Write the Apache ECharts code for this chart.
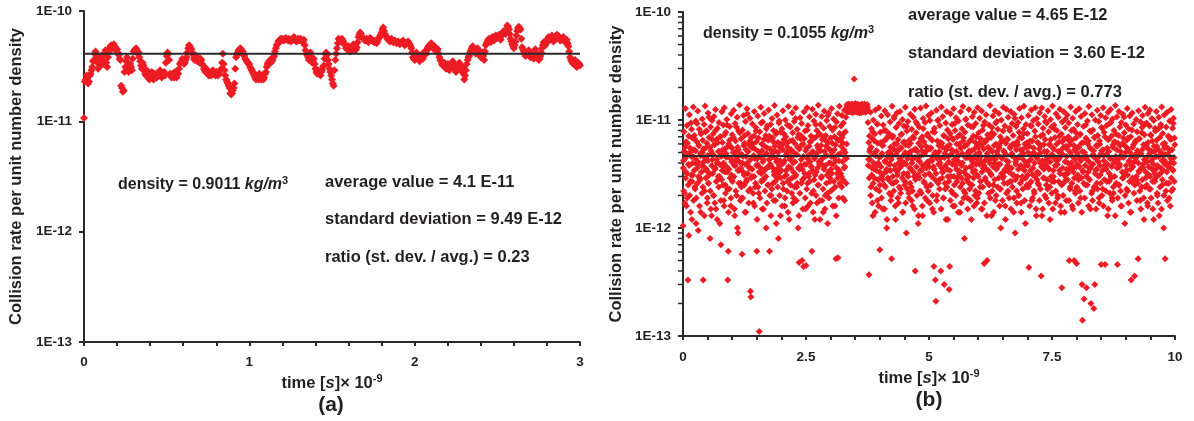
<!DOCTYPE html>
<html><head><meta charset="utf-8">
<script src="https://cdn.jsdelivr.net/npm/echarts@6/dist/echarts.min.js"></script>
<style>html,body{margin:0;padding:0;background:#fff}#c{width:1194px;height:421px}</style>
</head><body><div id="c"></div>
<script>
const FONT = '"Liberation Sans", Arial, sans-serif';
const INK = '#231f20';
const RED = '#ED1C24';

// axis ranges / ticks
const yMin = 1e-13, yMax = 1e-10;
const xMaxA = 3, xIntervalA = 1;
const xMaxB = 10, xIntervalB = 2.5;
const yMinorTickValuesB = [2e-13,3e-13,4e-13,5e-13,6e-13,7e-13,8e-13,9e-13,
  2e-12,3e-12,4e-12,5e-12,6e-12,7e-12,8e-12,9e-12,
  2e-11,3e-11,4e-11,5e-11,6e-11,7e-11,8e-11,9e-11];

// averages (horizontal lines)
const avgA = 4.1e-11;
const avgB = 4.65e-12;

// panel (a): collision rate in units of 1E-11, sampled every 0.005 (×1E-9 s)
const dtA = 0.005;
const unitA = 1e-11;
const rateA = [
1.07,2.3,2.4,2.6,2.5,2.2,2.3,2.6,2.7,2.9,3.1,3.5,3.6,4.1,4.3,3.8,3.4,3.0,3.9,3.6,
3.2,3.7,4.0,3.3,3.5,4.1,4.4,3.4,3.1,3.8,4.2,4.6,4.8,4.9,4.6,4.8,5.0,4.5,4.7,4.4,
4.5,4.2,4.0,3.7,3.6,2.1,2.0,1.85,1.9,2.8,3.1,3.5,3.8,3.1,2.8,3.0,3.3,3.1,2.9,3.7,
4.3,4.4,4.5,4.6,4.4,4.1,4.2,3.8,3.5,3.2,3.0,3.4,3.2,2.9,2.7,2.6,2.9,2.7,2.5,2.4,
2.6,2.7,2.8,2.5,2.4,2.6,2.7,2.5,2.5,2.7,2.6,2.8,2.9,2.6,2.5,2.6,2.7,2.8,2.6,3.4,
3.9,4.2,4.1,3.6,2.7,2.6,2.5,2.7,2.6,2.5,2.8,2.6,2.5,2.7,2.7,3.0,3.3,3.4,3.5,3.7,
3.6,3.3,3.4,3.6,3.8,4.2,4.6,4.9,4.8,4.6,4.5,4.2,4.0,3.7,3.6,3.8,3.9,3.5,3.7,3.5,
3.4,3.7,3.6,3.3,3.2,3.0,2.9,2.8,3.0,2.8,2.7,2.6,2.8,2.7,2.6,2.8,2.9,2.7,2.7,2.6,
2.8,2.7,2.6,2.8,2.7,2.9,3.0,3.4,4.1,3.3,2.9,2.6,2.4,2.3,2.2,2.1,2.0,1.8,1.75,1.8,
1.9,2.0,2.2,3.0,3.8,4.0,4.2,4.4,4.4,4.6,4.5,4.2,4.3,4.0,3.9,3.7,3.6,3.5,3.4,3.3,
3.3,3.1,3.0,2.9,2.8,2.7,2.6,2.5,2.4,2.6,2.5,2.4,2.7,2.5,2.4,2.5,2.6,2.4,2.5,2.7,
2.8,3.1,3.3,3.4,3.5,3.6,3.4,3.5,3.6,3.8,3.9,4.3,4.6,4.9,5.0,5.3,5.4,5.5,5.6,5.4,
5.6,5.5,5.4,5.6,5.7,5.6,5.5,5.4,5.6,5.5,5.3,5.4,5.5,5.7,5.8,5.6,5.4,5.3,5.5,5.6,
5.4,5.5,5.6,5.4,5.3,5.2,5.5,4.9,4.4,4.1,4.0,3.8,3.6,3.9,4.2,3.7,3.4,3.5,3.7,3.3,
3.0,2.8,2.7,2.9,2.8,2.7,2.6,2.8,2.9,3.1,3.2,3.7,4.1,4.2,4.0,3.6,3.3,3.0,2.8,2.6,
2.4,2.2,2.1,2.9,3.6,4.1,4.6,5.1,5.6,5.5,5.4,5.3,5.6,5.4,5.2,5.0,4.9,4.6,4.5,4.7,
4.8,4.5,4.3,4.4,4.6,4.8,5.0,4.6,4.4,4.5,4.7,5.2,5.8,6.1,6.4,6.2,5.9,5.7,5.6,5.5,
5.4,5.5,5.6,5.4,5.2,5.5,5.7,5.6,5.5,5.4,5.3,5.2,5.4,5.3,5.1,5.3,5.6,5.7,5.9,6.1,
6.4,6.8,7.1,6.6,6.2,6.0,5.8,5.6,5.5,5.4,5.3,5.5,5.6,5.4,5.2,5.3,5.4,5.2,5.1,5.2,
5.3,5.1,5.0,5.1,5.2,5.3,5.4,5.1,4.9,5.0,5.1,5.2,5.3,5.1,5.0,4.8,4.6,4.2,3.8,3.7,
3.6,3.9,4.2,4.0,3.9,3.6,3.5,3.8,4.0,3.8,3.7,4.0,4.3,4.2,4.1,4.4,4.7,4.8,4.9,5.0,
5.1,4.8,4.6,4.7,4.8,4.5,4.3,4.4,4.5,4.1,3.8,3.6,3.5,3.3,3.2,3.3,3.4,3.1,3.0,3.2,
3.3,3.0,2.9,3.0,3.1,3.3,3.5,3.3,3.2,3.0,2.8,2.9,3.0,3.2,3.4,3.1,2.9,3.0,3.1,2.7,
2.4,2.6,2.9,3.3,3.6,3.8,3.9,4.2,4.4,4.6,4.8,4.6,4.5,4.3,4.1,4.4,4.6,4.4,4.3,4.0,
3.8,4.0,4.2,3.9,3.6,4.3,4.9,5.1,5.3,5.5,5.6,5.4,5.2,5.5,5.8,5.6,5.4,5.7,6.0,5.9,
5.7,5.9,6.1,5.8,5.5,5.9,6.3,6.5,6.6,6.4,6.2,6.8,7.4,7.2,6.8,6.2,5.6,5.3,5.0,4.8,
4.6,4.9,5.3,6.0,6.6,7.0,7.2,7.0,6.8,5.6,4.7,4.5,4.3,4.1,3.9,4.0,4.2,4.3,4.4,4.1,
3.8,3.9,4.1,3.9,3.7,4.1,4.5,4.2,4.0,3.8,3.6,3.7,3.9,4.2,4.6,4.9,5.2,5.0,4.9,5.1,
5.4,5.6,5.8,5.7,5.5,5.8,6.0,5.6,5.3,5.5,5.7,5.9,6.1,6.0,5.9,5.6,5.4,5.5,5.6,5.7,
5.8,5.5,5.2,5.4,5.5,5.1,4.8,4.3,3.8,3.6,3.5,3.4,3.3,3.5,3.6,3.3,3.1,3.2,3.4,3.3,
3.2
];

// panel (b): collision rate in units of 1E-12
const unitB = 1e-12;
const dtB = 0.01;
// samples at t = 0, 0.01, 0.02, ... (×1E-9 s)
const rateB = [
1.05,4.2,7.8,2.1,5.6,12.8,3.3,1.6,8.9,6.1,0.33,3.9,0.85,11.2,5.0,2.7,9.4,4.6,1.2,6.8,
3.1,13.2,5.3,7.2,2.4,4.4,9.8,1.9,6.3,3.6,12.1,0.95,5.8,8.2,2.9,4.9,1.4,7.6,3.8,10.2,
6.5,0.33,4.1,9.1,2.2,13.5,5.5,3.4,7.9,1.7,4.7,11.6,2.6,6.9,3.2,0.8,8.6,5.2,1.3,9.9,
4.3,7.4,2.0,10.8,5.9,3.5,12.5,1.5,6.6,4.0,8.4,2.8,5.1,9.5,3.0,1.1,7.0,0.70,4.8,11.9,
6.2,3.7,9.0,1.8,13.0,5.4,2.5,7.7,4.5,10.1,3.3,0.33,0.61,6.0,2.3,8.7,5.7,1.6,11.4,4.1,
7.3,2.9,5.0,12.3,3.8,1.3,9.3,6.4,4.2,2.0,10.6,5.6,0.9,7.9,3.4,13.8,4.8,2.6,6.7,1.9,
0.57,8.1,4.6,11.0,3.1,6.1,1.4,9.7,5.3,2.7,12.7,4.0,7.5,2.2,5.9,3.6,10.4,0.26,0.23,6.9,
3.0,9.2,5.5,1.7,7.1,12.0,4.4,2.4,8.5,6.3,0.61,3.9,10.9,5.1,2.1,0.11,7.8,4.7,13.1,3.2,
6.0,1.5,9.6,4.3,2.8,11.5,5.7,3.5,7.2,1.0,4.9,8.8,2.5,6.5,12.4,3.7,0.61,5.4,9.1,2.0,
4.5,10.3,6.8,2.6,8.0,3.3,13.6,5.2,1.8,7.4,4.1,11.1,2.9,6.2,0.8,9.4,3.8,5.6,1.3,7.7,
3.4,8.3,5.9,12.2,2.3,6.6,4.2,1.6,10.0,7.0,3.1,5.0,9.0,2.7,13.3,4.6,1.2,6.4,8.6,3.6,
5.3,2.1,11.7,7.6,4.0,1.9,9.7,6.1,3.0,12.9,4.8,2.4,8.2,5.6,1.0,7.3,0.48,3.5,10.5,6.7,
4.3,9.3,0.5,2.8,6.0,0.44,11.9,3.9,7.9,1.5,0.45,5.5,13.0,2.6,8.9,4.7,3.2,10.7,6.3,1.7,
7.1,3.7,0.61,12.6,5.1,2.2,9.8,4.4,1.2,6.9,11.3,3.3,8.0,5.8,2.5,13.7,4.1,7.5,1.8,9.1,
5.2,2.9,10.8,6.6,3.8,1.4,8.4,12.1,4.6,2.0,7.2,5.7,9.9,3.1,1.1,6.2,11.6,4.0,8.7,2.7,
6.8,3.5,12.8,5.0,8.1,2.3,10.2,4.5,7.0,1.6,5.9,0.52,9.6,3.2,11.4,0.53,6.5,4.2,13.4,2.6,
4.9,8.8,3.0,11.0,6.2,1.9,9.4,5.3,12.3,3.7,7.8,10.6,4.4,12.9,13.3,12.6,13.1,13.6,12.8,13.2,
13.0,12.7,13.4,12.9,13.5,13.1,12.6,13.3,24.0,12.8,13.2,13.6,12.9,13.0,12.5,13.4,13.1,12.7,13.3,12.9,
13.2,12.8,13.5,13.0,12.6,13.3,13.1,12.9,13.4,12.7,13.0,13.2,12.8,13.5,12.9,13.1,9.5,4.3,0.37,7.1,
5.4,11.8,2.4,8.3,3.6,6.7,1.3,10.0,4.8,2.9,7.4,12.4,5.1,3.4,9.2,1.8,6.1,4.0,13.0,2.2,
0.63,7.7,4.6,10.9,3.0,5.8,1.5,9.0,6.4,2.5,12.2,4.2,8.0,3.3,1.0,6.9,11.2,5.0,2.8,7.5,
3.9,9.6,5.6,2.0,0.52,13.4,4.7,7.1,2.6,10.4,6.0,3.5,1.2,8.5,5.2,11.7,3.1,6.6,1.7,9.3,
4.4,12.0,2.3,7.3,5.5,3.8,10.1,1.4,6.2,8.8,4.0,2.7,13.1,5.9,0.9,7.9,3.2,9.7,4.9,2.1,
6.5,3.6,11.3,5.1,2.4,8.2,4.3,1.6,10.6,6.8,3.0,12.6,0.40,5.4,7.6,2.9,9.2,4.5,1.1,6.1,
8.6,4.1,2.2,12.9,5.7,3.4,7.0,1.3,10.3,4.8,6.3,2.6,9.5,3.9,13.5,5.2,1.8,7.4,4.0,11.0,
3.2,6.9,9.9,2.5,5.5,11.6,4.2,1.5,7.8,3.7,0.44,8.4,5.0,0.33,0.21,12.3,2.0,6.4,4.6,10.0,
5.8,2.8,8.9,4.4,0.40,13.2,6.1,3.3,10.8,1.9,7.2,0.30,4.9,2.3,9.4,5.6,12.0,3.5,1.2,6.7,
4.1,0.27,0.44,7.5,11.4,3.0,5.3,9.1,2.1,6.6,12.7,4.3,1.6,8.0,3.8,10.5,5.1,2.7,7.0,4.7,
9.8,3.4,6.0,1.4,11.9,5.5,2.9,8.3,4.0,13.3,6.8,2.2,0.8,7.7,4.5,10.2,3.1,5.9,1.9,9.0,
4.8,12.5,2.6,6.4,3.7,8.7,1.2,5.2,10.7,3.3,7.1,4.4,11.8,2.0,6.2,9.3,3.9,1.7,5.7,13.0,
3.0,7.6,5.0,10.4,2.4,6.7,4.1,12.1,1.5,8.1,3.6,5.4,0.47,9.6,2.8,6.3,11.2,4.6,0.5,7.3,
5.6,2.1,9.0,4.3,13.6,3.2,6.9,1.3,8.5,5.1,10.9,2.5,7.4,4.0,12.2,1.8,6.0,3.5,9.7,4.8,
8.2,3.9,11.5,5.8,2.3,7.0,1.0,10.0,4.5,6.5,2.9,13.1,5.2,3.3,8.8,1.6,6.1,12.6,4.2,2.6,
6.6,10.6,3.7,1.9,8.0,5.5,12.0,2.7,4.7,9.3,3.1,7.2,1.4,11.3,5.9,0.9,4.1,8.7,2.2,6.3,
4.4,9.5,2.0,7.7,12.8,3.6,5.3,1.7,10.5,6.8,2.8,4.9,8.3,13.4,3.4,6.0,1.1,9.1,5.6,2.4,
7.5,3.8,11.0,0.43,5.7,2.6,8.9,4.3,12.4,1.8,6.4,3.1,9.9,5.0,2.1,7.9,13.0,4.6,1.3,10.3,
3.3,6.2,9.2,2.5,5.4,11.7,4.0,7.1,0.36,12.9,3.7,1.5,8.4,5.9,2.9,10.8,6.6,4.2,1.9,9.4,
5.1,2.3,12.2,7.8,3.5,6.0,1.2,10.1,4.7,8.6,2.7,13.5,5.5,3.0,9.0,4.4,6.9,1.7,11.4,3.8,
8.0,4.2,2.0,10.6,6.3,3.4,12.6,5.2,1.4,7.4,0.28,9.6,4.8,2.6,11.9,6.7,3.1,8.5,5.7,1.8,
4.6,11.1,3.2,7.0,9.4,0.5,5.9,2.4,13.2,4.0,6.5,1.6,10.4,3.6,8.2,0.5,5.3,2.2,12.0,7.6,
0.47,3.9,9.1,5.6,2.8,12.7,4.5,7.3,1.9,10.8,6.1,0.30,0.14,3.3,8.7,0.22,5.0,11.5,2.5,6.8,
0.28,4.3,9.8,2.9,6.4,13.3,3.6,7.9,1.5,0.20,5.4,11.2,2.2,8.1,4.8,0.18,6.9,0.30,10.0,3.4,
5.8,2.6,12.3,7.2,4.1,9.7,1.7,6.0,3.1,11.0,0.46,5.2,8.4,2.3,13.0,4.7,7.7,3.8,0.46,10.5,
3.5,8.9,5.5,1.3,11.8,6.6,2.7,9.3,4.4,12.5,3.0,7.1,1.9,10.2,5.9,2.1,8.0,4.2,6.3,13.6,
7.4,4.0,10.7,0.46,6.1,2.5,12.0,3.7,8.6,5.1,1.6,9.5,4.6,2.9,11.3,6.8,3.2,7.6,1.1,5.7,
9.0,3.4,6.5,12.8,2.2,5.3,8.3,4.1,10.9,1.4,7.0,0.33,3.8,11.6,5.6,2.6,9.2,4.7,0.36,6.2,
4.4,10.1,2.8,7.8,5.0,0.52,12.2,3.3,6.7,1.8,9.6,4.9,2.4,8.5,11.0,3.6,5.9,1.2,7.3,13.1,
2.9,6.0,9.4,4.5,1.7,11.5,5.4,3.1,8.8,12.4,2.3,7.2,4.2,10.3,6.4,1.5,3.9,9.9,5.1,2.7,
7.9,3.5,12.0,5.7,2.0,8.2,4.6,10.6,1.3,6.9,3.2,9.1,5.0,13.2,2.5,7.5,4.3,1.0,11.1,6.1,
0.52,4.8,8.6,2.6,11.8,5.5,3.7,7.0,1.9,9.8,4.0,6.6,12.5,2.2,5.3,8.4,3.4,10.4,4.5,6.8
];
// samples at t = 0.005, 0.015, 0.025, ... (×1E-9 s)
const rateBHalf = [
3.6,2.2,5.1,1.7,4.4,2.9,6.3,3.2,1.9,4.8,2.5,7.1,3.8,2.0,5.5,1.4,3.1,8.2,2.7,4.0,
4.6,1.8,3.4,6.7,2.3,5.2,1.1,3.9,9.3,2.6,4.1,3.0,5.8,1.6,2.8,4.7,7.4,3.3,2.1,5.0,
2.4,5.4,3.7,1.3,4.5,7.8,2.9,3.5,6.1,1.9,4.2,2.6,10.6,3.1,5.6,2.2,1.5,4.9,3.8,6.6,
3.2,4.8,2.0,5.9,1.7,3.6,8.0,2.7,4.3,1.2,6.2,3.0,2.4,5.1,3.9,7.0,1.8,4.6,2.8,3.4,
5.3,2.5,4.0,1.6,7.3,3.3,2.1,4.9,3.7,9.0,2.3,5.7,1.4,3.5,6.5,2.9,4.4,1.9,3.1,5.5,
2.7,4.2,6.9,3.0,1.5,5.0,3.8,2.2,8.6,4.5,1.0,3.4,5.3,2.6,4.1,7.6,1.8,3.6,2.4,4.8,
4.0,1.9,3.3,5.8,2.5,7.2,3.9,1.4,4.6,2.8,11.4,3.2,5.1,1.7,3.7,6.4,2.3,4.3,2.9,5.6,
3.5,6.0,2.1,4.7,3.0,1.6,5.4,2.6,7.9,3.8,1.2,4.4,2.4,6.8,3.3,5.0,1.9,3.6,9.4,2.7,
5.2,2.8,4.1,1.5,6.6,3.4,2.2,4.8,3.0,8.3,1.7,5.5,3.7,2.5,4.3,7.1,2.0,3.9,1.3,4.6,
2.3,4.9,3.6,6.3,1.8,3.1,5.7,2.7,4.4,1.1,7.7,3.5,2.4,5.0,3.2,9.8,2.0,4.2,2.9,6.0,
3.9,1.6,5.3,2.6,4.0,7.4,3.0,1.9,4.7,3.4,6.1,2.2,5.6,1.4,3.7,2.8,8.8,4.3,2.5,5.1,
4.5,2.9,6.5,1.7,3.3,5.0,2.4,4.1,10.3,3.1,1.8,4.8,2.6,6.9,3.6,1.3,5.4,2.1,3.8,7.2,
2.6,5.9,3.5,1.5,4.6,2.9,6.7,3.2,1.9,5.2,3.9,2.3,8.1,4.4,1.6,3.0,5.7,2.7,4.1,6.3,
3.7,2.1,5.0,3.4,1.4,6.8,2.8,4.5,3.1,9.1,2.0,4.9,1.7,3.6,5.5,2.5,7.3,3.9,1.2,4.2,
5.8,3.0,1.8,4.4,2.3,7.0,3.5,5.1,1.5,3.8,6.4,2.6,4.7,2.1,11.0,3.3,1.9,5.4,2.9,4.0,
2.2,4.6,3.2,6.1,1.6,3.9,2.7,5.3,8.5,2.4,4.2,1.3,3.6,6.6,2.9,4.8,1.9,3.4,7.5,2.5,
3.2,5.7,2.4,6.9,4.1,2.8,7.5,3.6,1.8,5.0,4.5,2.6,6.0,13.9,11.8,13.5,12.2,14.1,11.9,13.6,
12.0,13.8,12.4,14.1,11.7,13.5,12.2,13.9,11.9,13.2,14.2,12.1,13.6,11.8,12.9,14.0,12.3,13.7,11.6,13.1,
12.1,13.8,11.7,14.0,12.4,13.6,11.9,13.3,14.1,12.0,13.7,11.8,13.4,12.3,13.9,12.2,3.8,6.2,2.9,5.1,
4.3,2.0,5.6,3.1,1.7,7.8,2.6,4.0,3.5,6.4,1.4,4.7,2.3,5.2,3.8,9.2,2.8,1.6,4.5,3.3,
2.5,6.2,3.7,1.9,4.9,2.8,5.8,3.2,8.0,1.5,4.1,2.4,6.6,3.5,1.2,4.6,2.9,7.1,3.9,2.1,
5.0,3.4,1.8,4.3,2.6,6.9,3.0,5.4,2.2,10.8,3.8,1.6,4.8,2.7,6.0,3.3,1.9,5.2,4.0,2.4,
3.6,5.5,2.1,4.2,7.4,2.9,1.4,4.7,3.2,6.3,2.5,5.0,1.7,3.9,8.7,2.3,4.4,3.0,5.8,1.9,
4.8,2.6,6.1,3.5,1.8,4.0,2.2,7.0,3.3,5.3,1.5,4.5,2.8,9.6,3.7,2.0,5.1,3.1,1.3,4.2,
2.9,4.6,3.4,6.7,2.1,5.2,1.6,3.8,8.3,2.7,4.9,3.1,1.9,5.7,3.6,2.4,7.2,4.1,2.2,5.5,
3.7,1.7,5.4,2.5,4.3,3.0,6.5,2.0,4.7,1.4,3.5,7.7,2.8,5.0,3.2,1.8,4.4,9.9,2.6,3.9,
5.1,2.3,4.0,6.2,1.5,3.6,2.9,5.6,3.3,1.9,7.1,4.5,2.6,3.8,1.2,5.3,2.4,8.1,3.0,4.6,
2.7,5.9,3.4,1.8,4.8,2.2,6.8,3.9,1.6,5.1,3.0,2.5,9.3,4.2,2.0,3.5,6.0,2.9,4.6,1.4,
4.1,3.2,7.3,2.4,5.5,1.7,3.8,4.9,2.6,6.4,1.9,3.3,5.7,2.1,10.1,3.6,2.8,4.5,1.5,5.0,
3.0,5.2,2.3,4.4,1.8,6.6,3.7,2.5,4.1,8.6,2.9,1.6,5.4,3.4,2.2,4.8,7.0,3.1,1.9,4.3,
5.6,2.1,3.9,6.2,2.7,4.6,1.5,3.3,5.9,2.4,8.9,3.8,1.7,4.2,2.9,6.5,3.5,1.3,4.9,2.6,
3.4,6.8,2.5,4.0,1.9,5.3,3.1,7.6,2.2,4.5,3.7,1.4,5.8,2.8,4.3,9.4,2.0,3.6,5.1,2.4,
4.7,2.9,5.5,1.6,3.9,2.3,6.3,3.2,4.4,1.8,7.9,3.0,2.6,5.0,3.5,1.2,4.8,2.1,6.7,3.8,
2.2,4.1,3.3,8.4,2.7,5.7,1.5,3.6,4.9,2.4,6.0,3.1,1.9,4.5,10.4,2.8,3.9,5.3,1.7,3.0,
5.9,3.5,2.0,4.6,6.9,2.6,3.8,1.4,5.2,3.0,2.3,4.3,7.5,3.7,1.8,5.6,2.9,4.0,2.5,6.2,
3.1,5.0,2.4,4.2,1.6,6.4,3.4,2.7,8.8,4.8,1.9,3.6,5.5,2.2,4.0,3.0,7.0,1.5,4.7,2.8,
4.4,2.6,6.1,3.2,1.8,4.9,2.3,5.8,3.7,1.3,4.2,7.3,2.9,3.5,5.1,2.0,9.7,3.9,2.5,4.6,
2.8,4.5,3.6,1.7,5.9,2.4,4.1,6.6,3.0,2.1,4.8,1.5,3.4,5.4,2.7,8.2,3.8,2.2,4.3,6.0,
3.9,1.9,5.1,2.7,4.4,7.1,3.2,1.6,4.7,2.5,6.3,3.6,2.0,5.6,3.1,1.4,4.1,10.2,2.8,3.5,
5.4,2.8,4.0,6.5,1.8,3.5,2.3,5.0,3.8,8.0,2.6,4.6,1.5,3.3,5.8,2.9,4.3,2.1,6.8,3.7,
2.4,4.9,3.1,1.7,5.6,3.7,2.2,7.4,4.2,2.9,1.4,5.1,3.4,6.2,2.6,4.5,1.9,3.8,9.0,3.0,
4.6,2.5,6.0,3.3,1.6,4.1,2.8,5.5,3.6,7.8,2.1,4.7,1.8,3.9,5.2,2.4,6.9,3.2,4.4,1.5,
3.5,5.7,2.3,4.5,3.0,1.9,6.4,3.8,2.6,4.9,8.5,2.0,3.4,5.3,1.6,4.2,2.8,7.0,3.6,2.2,
4.8,2.7,3.9,6.6,1.5,5.1,3.2,2.1,4.4,9.5,2.9,3.7,1.8,5.6,2.4,4.0,6.3,3.0,1.3,4.6,
2.6,5.3,3.6,1.9,4.3,7.2,2.5,3.9,5.8,2.2,4.7,1.6,3.3,6.1,2.9,4.5,10.6,3.1,2.0,5.0,
3.8,2.3,5.5,3.1,6.8,1.7,4.2,2.7,5.0,3.5,1.4,4.6,8.1,2.9,3.7,5.9,2.1,4.1,2.5,6.4,
4.5,3.0,1.8,5.2,2.6,4.0,6.7,3.4,2.2,4.8,1.5,3.6,7.6,2.8,5.4,3.9,1.9,4.3,9.1,2.4,
3.3,5.8,2.5,4.1,1.6,6.2,3.7,2.3,4.9,3.0,7.3,1.9,5.1,3.5,2.7,4.4,1.2,5.7,3.2,8.4,
2.9,4.6,6.5,2.1,3.8,1.7,5.3,3.1,4.7,2.4,8.6,3.6,1.5,4.2,2.8,6.0,3.4,2.0,5.5,3.9,
4.1,2.2,5.6,3.3,1.8,4.8,7.1,2.6,3.7,5.2,1.6,4.4,2.9,6.7,3.5,2.3,9.3,4.0,2.7,5.9
];

const seriesA = rateA.map((v, i) => [+(i * dtA).toFixed(4), v * unitA]);
const seriesB = rateB.map((v, i) => [+(i * dtB).toFixed(4), v * unitB])
  .concat(rateBHalf.map((v, i) => [+(i * dtB + dtB / 2).toFixed(4), v * unitB]));

const chart = echarts.init(document.getElementById('c'), null, {renderer: 'canvas'});

const axisLineStyle = {color: '#2a2a2a', width: 2};
const tickLabel = {fontFamily: FONT, fontWeight: 'bold', fontSize: 13.5, color: INK};
const yFmt = v => '1E' + Math.round(Math.log10(v));
const yTitle = 'Collision rate per unit number density';
const xName = '{b|time [}{i|s}{b|]× 10}{sup|-9}';
const xNameRich = {
  b: {fontFamily: FONT, fontWeight: 'bold', fontSize: 16.5, color: INK, lineHeight: 20},
  i: {fontFamily: FONT, fontWeight: 'bold', fontStyle: 'italic', fontSize: 16.5, color: INK, lineHeight: 20},
  sup: {fontFamily: FONT, fontWeight: 'bold', fontSize: 11, color: INK, lineHeight: 20, verticalAlign: 'top', padding: [0,0,8,0]}
};

function yAxis(gridIndex, gap) {
  return {
    type: 'log', logBase: 10, gridIndex, min: yMin, max: yMax,
    axisLine: {show: true, lineStyle: axisLineStyle},
    axisTick: {show: true, length: 5, lineStyle: {color: '#2a2a2a', width: 2}},
    splitLine: {show: false},
    axisLabel: Object.assign({margin: 12, formatter: yFmt}, tickLabel),
    name: yTitle, nameLocation: 'middle', nameGap: gap,
    nameTextStyle: {fontFamily: FONT, fontWeight: 'bold', fontSize: 16.5, color: INK}
  };
}
function xAxis(gridIndex, max, interval, margin, gap) {
  return {
    type: 'value', gridIndex, min: 0, max, interval,
    axisLine: {show: true, onZero: false, lineStyle: axisLineStyle},
    axisTick: {show: true, length: 4, lineStyle: {color: '#2a2a2a', width: 2}},
    minorTick: {show: true, splitNumber: 5, length: 4, lineStyle: {color: '#2a2a2a', width: 2}},
    splitLine: {show: false},
    axisLabel: Object.assign({margin}, tickLabel),
    name: xName, nameLocation: 'middle', nameGap: gap,
    nameTextStyle: {rich: xNameRich}
  };
}

function txt(x, y, parts, size) {
  return {
    type: 'text', x, y, silent: true,
    style: {
      text: parts, verticalAlign: 'middle', fill: INK,
      font: 'bold ' + size + 'px ' + FONT,
      rich: {
        b: {fontFamily: FONT, fontWeight: 'bold', fontSize: size, fill: INK, lineHeight: 20},
        i: {fontFamily: FONT, fontWeight: 'bold', fontStyle: 'italic', fontSize: size, fill: INK, lineHeight: 20},
        s: {fontFamily: FONT, fontWeight: 'bold', fontSize: 11, fill: INK, lineHeight: 20, verticalAlign: 'top', padding: [0,0,8,0]}
      }
    }
  };
}

const markerStyle = {color: RED, opacity: 1};

const option = {
  animation: false,
  backgroundColor: '#fff',
  grid: [
    {left: 84, top: 11, width: 496, height: 331},
    {left: 683, top: 12, width: 492, height: 324}
  ],
  xAxis: [xAxis(0, xMaxA, xIntervalA, 13, 30), xAxis(1, xMaxB, xIntervalB, 14, 28)],
  yAxis: [yAxis(0, 59), yAxis(1, 58)],
  series: [
    {type: 'scatter', xAxisIndex: 0, yAxisIndex: 0, data: seriesA, symbol: 'diamond', symbolSize: 8,
     itemStyle: markerStyle, clip: false, z: 2},
    {type: 'line', xAxisIndex: 0, yAxisIndex: 0, data: [[0, avgA], [xMaxA, avgA]], symbol: 'none',
     lineStyle: {color: '#2a2a2a', width: 2}, z: 3},
    {type: 'scatter', xAxisIndex: 1, yAxisIndex: 1, data: seriesB, symbol: 'diamond', symbolSize: 7,
     itemStyle: markerStyle, clip: false, z: 2},
    {type: 'line', xAxisIndex: 1, yAxisIndex: 1, data: [[0, avgB], [xMaxB, avgB]], symbol: 'none',
     lineStyle: {color: '#2a2a2a', width: 2}, z: 3},
    {type: 'scatter', xAxisIndex: 1, yAxisIndex: 1, data: yMinorTickValuesB.map(v => [0, v]),
     symbol: 'rect', symbolSize: [4, 1.5], symbolOffset: [-3, 0], itemStyle: {color: '#2a2a2a', opacity: 1},
     silent: true, clip: false, z: 4}
  ],
  graphic: [
    txt(118, 185, '{b|density = 0.9011 }{i|kg/m}{s|3}', 16),
    txt(325, 182, '{b|average value = 4.1 E-11}', 16.5),
    txt(325, 219, '{b|standard deviation = 9.49 E-12}', 16.5),
    txt(325, 257, '{b|ratio (st. dev. / avg.) = 0.23}', 16.5),
    txt(703, 34, '{b|density = 0.1055 }{i|kg/m}{s|3}', 16),
    txt(908, 15, '{b|average value = 4.65 E-12}', 16.5),
    txt(908, 53, '{b|standard deviation = 3.60 E-12}', 16.5),
    txt(908, 92, '{b|ratio (st. dev. / avg.) = 0.773}', 16.5),
    {type: 'text', x: 331, y: 405, silent: true,
     style: {text: '(a)', align: 'center', verticalAlign: 'middle', fill: INK, font: 'bold 21px ' + FONT}},
    {type: 'text', x: 929, y: 400, silent: true,
     style: {text: '(b)', align: 'center', verticalAlign: 'middle', fill: INK, font: 'bold 21px ' + FONT}}
  ]
};
chart.setOption(option);
</script>
</body></html>
